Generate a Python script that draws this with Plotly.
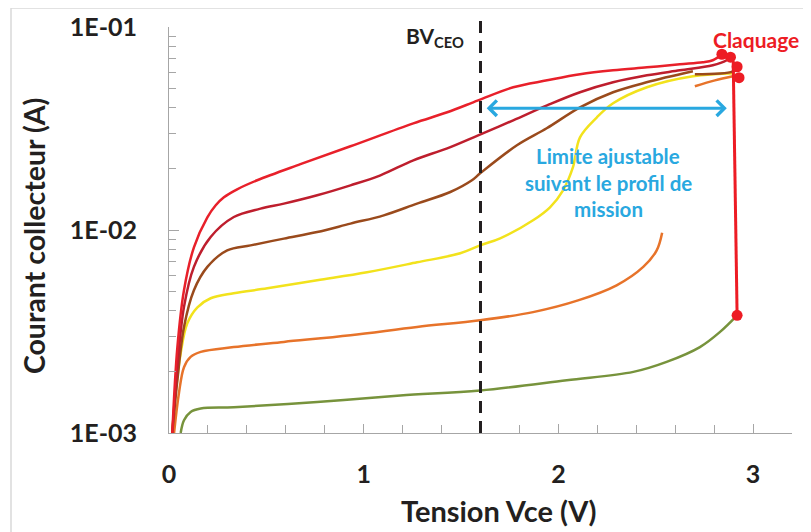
import numpy as np
import plotly.graph_objects as go

# Tension Vce (V) et courant collecteur (A)
v_red = [0.017, 0.043, 0.077, 0.128, 0.197, 0.240, 0.282, 0.350, 0.453, 0.675, 0.932, 1.255,
         1.429, 1.588, 1.768, 1.942, 2.111, 2.281, 2.455, 2.624, 2.742, 2.793, 2.840]
i_red = [0.00100, 0.00264, 0.00505, 0.00822, 0.01155, 0.01324, 0.01449, 0.01587, 0.01758,
         0.0211, 0.02584, 0.03354, 0.0380, 0.0435, 0.0505, 0.0546, 0.0585, 0.0612, 0.0633,
         0.0655, 0.0670, 0.0686, 0.0734]

v_darkred = [0.017, 0.043, 0.077, 0.128, 0.214, 0.333, 0.470, 0.590, 0.761, 0.932, 1.086,
             1.255, 1.429, 1.588, 1.768, 1.942, 2.111, 2.281, 2.455, 2.624, 2.793, 2.865, 2.886]
i_darkred = [0.00100, 0.00211, 0.00418, 0.00658, 0.00924, 0.01159, 0.01274, 0.01349, 0.01483,
             0.0166, 0.0186, 0.02205, 0.02526, 0.02928, 0.0347, 0.0411, 0.0477, 0.0534,
             0.0578, 0.0612, 0.0648, 0.0686, 0.0710]

v_brown = [0.017, 0.043, 0.077, 0.128, 0.197, 0.299, 0.419, 0.590, 0.761, 0.932, 1.103,
           1.274, 1.445, 1.556, 1.598, 1.787, 1.940, 2.111, 2.281, 2.453, 2.691,
           None, 2.701, 2.896, 2.916]
i_brown = [0.00100, 0.00182, 0.00333, 0.00505, 0.00658, 0.00794, 0.0084, 0.00907, 0.00977,
           0.01075, 0.01181, 0.01349, 0.01539, 0.01758, 0.01902, 0.02614, 0.0317, 0.0402,
           0.0477, 0.0534, 0.0605, None, 0.0585, 0.0605, 0.0633]

v_yellow = [0.017, 0.034, 0.060, 0.094, 0.146, 0.214, 0.332, 0.505, 0.761, 1.017, 1.274,
            1.496, 1.598, 1.701, 1.870, 1.957, 2.024, 2.075, 2.111, 2.198, 2.281, 2.455,
            2.691, 2.906]
i_yellow = [0.00100, 0.00157, 0.00247, 0.00347, 0.00416, 0.00461, 0.00488, 0.00516, 0.00565,
            0.00619, 0.00693, 0.00768, 0.0084, 0.0091, 0.01117, 0.01294, 0.01569, 0.0204,
            0.0286, 0.0359, 0.0421, 0.0505, 0.0572, 0.0592]

v_orange = [0.026, 0.051, 0.077, 0.111, 0.163, 0.333, 0.590, 0.932, 1.274, 1.598, 1.870,
            2.101, 2.299, 2.436, 2.505, 2.533, None, 2.701, 2.804, 2.896]
i_orange = [0.00100, 0.00157, 0.00211, 0.00237, 0.00251, 0.00265, 0.00281, 0.00303, 0.00333,
            0.00359, 0.00394, 0.0045, 0.00534, 0.00658, 0.00794, 0.0097, None, 0.0511,
            0.0546, 0.0572]

v_green = [0.060, 0.077, 0.111, 0.163, 0.333, 0.761, 1.188, 1.598, 2.043, 2.385, 2.556,
           2.727, 2.829, 2.918]
i_green = [0.00100, 0.001155, 0.00127, 0.00132, 0.00134, 0.00142, 0.00153, 0.00162, 0.00182,
           0.0020, 0.00224, 0.00265, 0.00314, 0.0038]

# claquage
v_break = [2.898, 2.918]
i_break = [0.068, 0.0038]
v_dots = [2.840, 2.884, 2.918, 2.928, 2.918]
i_dots = [0.0734, 0.0710, 0.0637, 0.0563, 0.0038]

bv_ceo = 1.6
arrow_v = [1.624, 2.865]
arrow_i = 0.0398

x_tick_labels = ["0", "1", "2", "3"]
y_tick_labels = ["1E-03", "1E-02", "1E-01"]

FONT = "Lato"
TXT = "#231F20"
GRAY = "#A6A6A6"
RED = "#ED1C24"
BLUE = "#29A8E0"

curves = [
    ("green", v_green, i_green, "#77933C"),
    ("orange", v_orange, i_orange, "#E7732A"),
    ("yellow", v_yellow, i_yellow, "#F2E21C"),
    ("brown", v_brown, i_brown, "#9A4A1C"),
    ("darkred", v_darkred, i_darkred, "#BE1E2D"),
    ("red", v_red, i_red, "#E8202A"),
]

fig = go.Figure()

for name, v, i, color in curves:
    fig.add_trace(go.Scatter(
        x=v, y=i, mode="lines", name=name, connectgaps=False,
        line=dict(color=color, width=2.5, shape="spline", smoothing=1.0)
    ))

# breakdown line + points
fig.add_trace(go.Scatter(x=v_break, y=i_break, mode="lines",
                         line=dict(color=RED, width=3), name="claquage"))
fig.add_trace(go.Scatter(x=v_dots, y=i_dots, mode="markers",
                         marker=dict(color=RED, size=11), name="points"))

# BVceo dashed line
fig.add_shape(type="line", xref="x", yref="paper", x0=bv_ceo, x1=bv_ceo, y0=0, y1=1.03,
              line=dict(color=TXT, width=3, dash="12px,8px"))

# outer frame (left and top edges only visible)
fig.add_shape(type="rect", xref="paper", yref="paper", x0=-0.2536, x1=1.2, y0=-0.5, y1=1.0468,
              line=dict(color="#D9D9D9", width=1.5), layer="below")

# double arrow
fig.add_annotation(x=arrow_v[1], y=np.log10(arrow_i), ax=arrow_v[0], ay=np.log10(arrow_i),
                   xref="x", yref="y", axref="x", ayref="y", text="", showarrow=True,
                   arrowhead=4, startarrowhead=4, arrowside="end+start",
                   arrowwidth=3, arrowsize=1, startarrowsize=1, arrowcolor=BLUE,
                   standoff=0, startstandoff=0)

fig.add_annotation(x=1.527, y=0.975, xref="x", yref="paper", xanchor="right", yanchor="middle",
                   text="BV<sub>CEO</sub>", showarrow=False,
                   font=dict(family=FONT, size=21, color=TXT, weight="bold"))
fig.add_annotation(x=3.013, y=0.969, xref="x", yref="paper", xanchor="center", yanchor="middle",
                   text="Claquage", showarrow=False,
                   font=dict(family=FONT, size=21, color=RED, weight="bold"))
for txt, yp in [("Limite ajustable", 0.682), ("suivant le profil de", 0.616), ("mission", 0.552)]:
    fig.add_annotation(x=2.255, y=yp, xref="x", yref="paper", xanchor="center", yanchor="middle",
                       text=txt, showarrow=False,
                       font=dict(family=FONT, size=20.5, color=BLUE, weight="bold"))

# axis titles placed as in the original (not centred on the plot area)
fig.add_annotation(x=1.696, y=-0.192, xref="x", yref="paper", xanchor="center", yanchor="middle",
                   text="Tension Vce (V)", showarrow=False,
                   font=dict(family=FONT, size=29, color=TXT, weight="bold"))
fig.add_annotation(x=-0.2167, y=0.485, xref="paper", yref="paper", xanchor="center",
                   yanchor="middle", textangle=-90,
                   text="Courant collecteur (A)", showarrow=False,
                   font=dict(family=FONT, size=28.5, color=TXT, weight="bold"))

y_major = [1e-3, 1e-2, 1e-1]
y_minor = [k * 10.0 ** e for e in (-3, -2) for k in range(2, 10)]
x_minor = list(np.round(np.arange(0, 3.21, 0.2), 1))

# the page body adds an 8px offset, so the figure is a bit smaller than the window
fig.update_layout(
    width=803, height=524,
    margin=dict(l=161, r=19, t=19, b=99),
    paper_bgcolor="white", plot_bgcolor="white",
    showlegend=False,
    xaxis=dict(
        range=[0, 3.2], tickmode="array", automargin=False,
        tickvals=[float(t) for t in x_tick_labels], ticktext=x_tick_labels,
        ticks="inside", ticklen=9, tickcolor=GRAY,
        showline=True, linecolor=GRAY, linewidth=1, showgrid=False, zeroline=False,
        minor=dict(tickvals=x_minor, ticks="inside", ticklen=8, tickcolor=GRAY, showgrid=False),
        tickfont=dict(family=FONT, size=25, color=TXT, weight="bold"),
        ticklabelstandoff=19,
    ),
    yaxis=dict(
        type="log", range=[-3, -1], tickmode="array", automargin=False,
        tickvals=y_major, ticktext=y_tick_labels,
        ticks="inside", ticklen=10, tickcolor=GRAY,
        showline=True, linecolor=GRAY, linewidth=1, showgrid=False, zeroline=False,
        minor=dict(tickvals=y_minor, ticks="inside", ticklen=7, tickcolor=GRAY, showgrid=False),
        tickfont=dict(family=FONT, size=25, color=TXT, weight="bold"),
        ticklabelstandoff=26,
    ),
)

fig.write_html("out.html")
